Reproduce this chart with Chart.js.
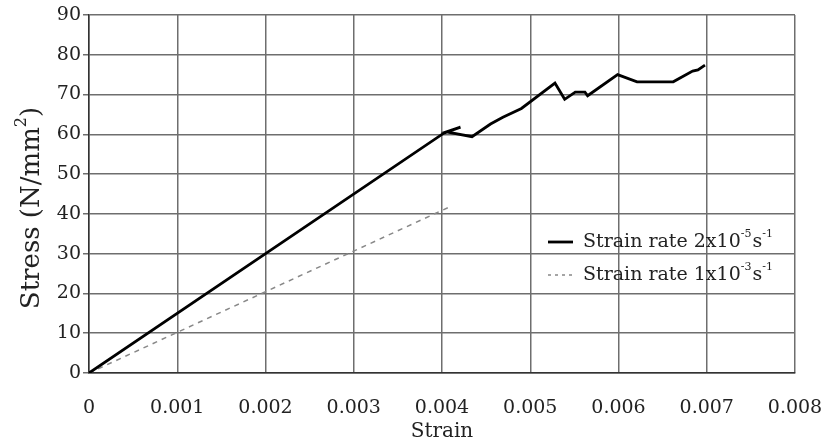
<!DOCTYPE html>
<html>
<head>
<meta charset="utf-8">
<script src="https://cdn.jsdelivr.net/npm/chart.js@4/dist/chart.umd.min.js"></script>
<style>
  html, body { margin: 0; padding: 0; background: #fff; }
  #wrap { width: 825px; height: 448px; }
</style>
</head>
<body>
<div id="wrap"><canvas id="chart"></canvas></div>
<script>
// tick labels
const xTickLabels = ['0', '0.001', '0.002', '0.003', '0.004', '0.005', '0.006', '0.007', '0.008'];
const yTickLabels = ['0', '10', '20', '30', '40', '50', '60', '70', '80', '90'];

// strain rate 2x10^-5 s^-1 (solid)
const slowStrain = [0, 0.00402, 0.00421, 0.00405, 0.00434, 0.00455, 0.00469, 0.00490, 0.00528, 0.00539, 0.00551, 0.00562, 0.00565, 0.00599, 0.00621, 0.00662, 0.00684, 0.00690, 0.00698];
const slowStress = [0, 60.3, 61.8, 60.6, 59.4, 62.6, 64.3, 66.5, 72.9, 68.8, 70.6, 70.6, 69.7, 75.0, 73.2, 73.2, 75.9, 76.2, 77.4];

// strain rate 1x10^-3 s^-1 (dashed)
const fastStrain = [0, 0.00411];
const fastStress = [0, 42];

const legendItems = [
    { base: 'Strain rate 2x10', exp: '-5', unit: 's', unitExp: '-1', dash: [], color: '#000', width: 2.8 },
    { base: 'Strain rate 1x10', exp: '-3', unit: 's', unitExp: '-1', dash: [3, 4], color: '#888', width: 1.5 },
];

const FONT = "'DejaVu Serif', 'Liberation Serif', serif";

const toPoints = (xs, ys) => xs.map((x, i) => ({ x: x, y: ys[i] }));

// legend drawn inside the plot, lower right, plus y title with a real superscript
const extras = {
    id: 'extras',
    afterDraw(chart) {
        const ctx = chart.ctx;
        const area = chart.chartArea;
        const left = area.right - 247;
        let y = area.bottom - 131;
        ctx.save();
        ctx.fillStyle = '#222';
        ctx.textBaseline = 'middle';
        legendItems.forEach(item => {
            ctx.strokeStyle = item.color;
            ctx.lineWidth = item.width;
            ctx.setLineDash(item.dash);
            ctx.beginPath();
            ctx.moveTo(left, y);
            ctx.lineTo(left + 25, y);
            ctx.stroke();
            ctx.setLineDash([]);

            let x = left + 35;
            ctx.font = '19px ' + FONT;
            ctx.fillText(item.base, x, y);
            x += ctx.measureText(item.base).width;
            ctx.font = '11px ' + FONT;
            ctx.fillText(item.exp, x, y - 8);
            x += ctx.measureText(item.exp).width + 1;
            ctx.font = '19px ' + FONT;
            ctx.fillText(item.unit, x, y);
            x += ctx.measureText(item.unit).width;
            ctx.font = '11px ' + FONT;
            ctx.fillText(item.unitExp, x, y - 8);
            y += 33;
        });

        // y axis title
        const main = 'Stress (N/mm';
        ctx.font = '26px ' + FONT;
        const wMain = ctx.measureText(main).width;
        ctx.font = '16px ' + FONT;
        const wSup = ctx.measureText('2').width;
        ctx.font = '26px ' + FONT;
        const wEnd = ctx.measureText(')').width;
        const total = wMain + wSup + wEnd;
        ctx.translate(32, area.top + (area.bottom - area.top) / 2 + 14);
        ctx.rotate(-Math.PI / 2);
        let tx = -total / 2;
        ctx.fillText(main, tx, 0);
        tx += wMain;
        ctx.font = '16px ' + FONT;
        ctx.fillText('2', tx, -10);
        tx += wSup;
        ctx.font = '26px ' + FONT;
        ctx.fillText(')', tx, 0);
        ctx.restore();
    }
};

new Chart(document.getElementById('chart'), {
    type: 'line',
    data: {
        datasets: [
            {
                label: 'Strain rate 2x10-5 s-1',
                data: toPoints(slowStrain, slowStress),
                borderColor: '#000',
                borderWidth: 2.8,
                pointRadius: 0,
                tension: 0,
            },
            {
                label: 'Strain rate 1x10-3 s-1',
                data: toPoints(fastStrain, fastStress),
                borderColor: '#888',
                borderWidth: 1.5,
                borderDash: [5, 5],
                pointRadius: 0,
                tension: 0,
            },
        ],
    },
    options: {
        responsive: true,
        maintainAspectRatio: false,
        animation: false,
        layout: { padding: { top: 15, right: 30, left: 0, bottom: 0 } },
        plugins: {
            legend: { display: false },
            tooltip: { enabled: false },
        },
        scales: {
            x: {
                type: 'linear',
                min: 0,
                max: 0.008,
                afterFit: scale => {
                    scale.height = 75;
                    scale.paddingLeft = 0;
                    scale.paddingRight = 0;
                },
                ticks: {
                    stepSize: 0.001,
                    padding: 24,
                    color: '#222',
                    font: { family: FONT, size: 19 },
                    maxRotation: 0,
                    callback: (value, index) => xTickLabels[index],
                },
                grid: { color: '#6e6e6e', lineWidth: 1.5, drawTicks: false },
                border: { color: '#333', width: 1.5 },
                title: {
                    display: true,
                    text: 'Strain',
                    color: '#222',
                    font: { family: FONT, size: 20 },
                    padding: { top: 4 },
                },
            },
            y: {
                min: 0,
                max: 90,
                afterFit: scale => { scale.width = 89; },
                ticks: {
                    stepSize: 10,
                    padding: 2,
                    color: '#222',
                    font: { family: FONT, size: 19 },
                    callback: (value, index) => yTickLabels[index],
                },
                grid: { color: '#6e6e6e', lineWidth: 1.5, tickLength: 6 },
                border: { color: '#333', width: 1.5 },
            },
        },
    },
    plugins: [extras],
});
</script>
</body>
</html>
